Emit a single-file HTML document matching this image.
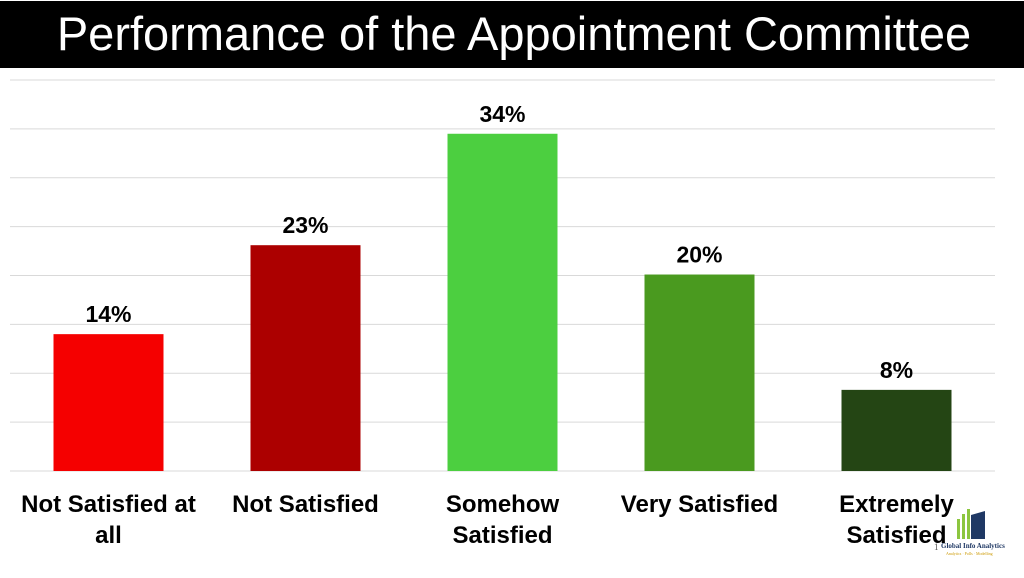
<!DOCTYPE html>
<html><head><meta charset="utf-8"><style>
body{margin:0;width:1024px;height:573px;overflow:hidden;background:#fff;font-family:"Liberation Sans",sans-serif}
</style></head><body>
<svg id="chart" width="1024" height="573" xmlns="http://www.w3.org/2000/svg">
<rect x="0" y="1" width="1024" height="67" fill="#000"/>
<text x="514" y="50" text-anchor="middle" fill="#fff" font-size="47" font-family="Liberation Sans, sans-serif">Performance of the Appointment Committee</text>
<g id="grid"></g><g id="bars"></g><g id="labels"></g>
<g>
<rect x="957" y="519" width="3" height="20" fill="#8cc63f"/>
<rect x="962" y="514" width="3" height="25" fill="#8cc63f"/>
<rect x="967" y="509" width="3" height="30" fill="#8cc63f"/>
<polygon points="971,515 985,511 985,539 971,539" fill="#1f3864"/>
<text x="934" y="550" font-size="9" fill="#555" font-family="Liberation Serif, serif">1</text>
<text x="941" y="548" font-size="7" font-weight="bold" fill="#1f3864" font-family="Liberation Serif, serif">Global Info Analytics</text>
<text x="946" y="555" font-size="4" fill="#c90" font-family="Liberation Serif, serif">Analytics · Polls · Modelling</text>
</g>
</svg>
<script>
const categories=[["Not Satisfied at","all"],["Not Satisfied"],["Somehow","Satisfied"],["Very Satisfied"],["Extremely","Satisfied"]];
const values=[14,23.1,34.5,20.1,8.3];
const valueLabels=["14%","23%","34%","20%","8%"];
const colors=["#f50000","#ac0000","#4ccf40","#4a9a1f","#244514"];
const gridTicks=[0,5,10,15,20,25,30,35,40];
const NS="http://www.w3.org/2000/svg";
const x0=10,x1=995,y0=471,yTop=80,maxV=40;
const catW=(x1-x0)/categories.length,barW=110;
const y=v=>y0-(v/maxV)*(y0-yTop);
const xc=i=>x0+catW*(i+0.5);
function mk(t,a){const e=document.createElementNS(NS,t);for(const k in a)e.setAttribute(k,a[k]);return e;}
const g=document.getElementById('grid'),b=document.getElementById('bars'),l=document.getElementById('labels');
gridTicks.forEach(t=>{const ln=mk('line',{x1:x0,x2:x1,y1:y(t),y2:y(t),stroke:'#d9d9d9','stroke-width':1});


g.appendChild(ln);});
values.forEach((v,i)=>{
const r=mk('rect',{x:xc(i)-barW/2,y:y(v),width:barW,height:y0-y(v),fill:colors[i]});


b.appendChild(r);
const t=mk('text',{x:xc(i),y:y(v)-12,'text-anchor':'middle','font-size':23,'font-weight':'bold',fill:'#000'});
t.textContent=valueLabels[i];


l.appendChild(t);
categories[i].forEach((s,j)=>{const c=mk('text',{x:xc(i),y:512+j*31,'text-anchor':'middle','font-size':24,'font-weight':'bold',fill:'#000'});
c.textContent=s;


l.appendChild(c);});
});
</script>
</body></html>
